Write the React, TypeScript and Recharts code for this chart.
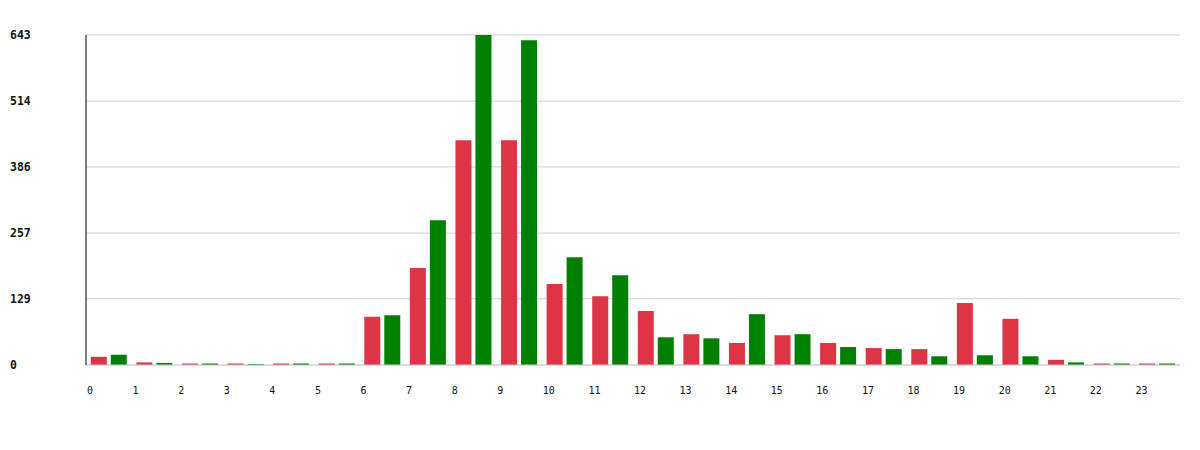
import React from 'react'
import { BarChart, Bar, XAxis, YAxis, CartesianGrid } from 'recharts'

const HOURS = ['0', '1', '2', '3', '4', '5', '6', '7', '8', '9', '10', '11', '12', '13', '14', '15', '16', '17', '18', '19', '20', '21', '22', '23']
const RED_VALUES = [16, 5, 3, 3, 3, 3, 94, 189, 438, 438, 158, 134, 105, 60, 43, 58, 43, 33, 31, 121, 90, 10, 3, 3]
const GREEN_VALUES = [20, 4, 3, 2, 3, 3, 97, 282, 643, 633, 210, 175, 54, 52, 99, 60, 35, 31, 17, 19, 17, 5, 3, 3]
const Y_TICKS = [0, 129, 257, 386, 514, 643]

const WIDTH = 1200
const HEIGHT = 450
const MARGIN = { top: 35, right: 20, bottom: 55, left: 0 }
const Y_WIDTH = 86
const BAND = (WIDTH - MARGIN.left - MARGIN.right - Y_WIDTH) / HOURS.length
const FONT = '"DejaVu Sans Mono", "Liberation Mono", monospace'

const data = HOURS.map((h, i) => ({ hour: h, red: RED_VALUES[i], green: GREEN_VALUES[i] }))

function YTick(props: any) {
  const { y, payload } = props
  return (
    <text x={10} y={y} dominantBaseline="central" textAnchor="start"
      style={{ fontFamily: FONT, fontSize: 11.5, fontWeight: 700, fill: '#111' }}>
      {payload.value}
    </text>
  )
}

function XTick(props: any) {
  const { x, y, payload } = props
  return (
    <text x={x - BAND / 2 + 1} y={y + 17} dominantBaseline="central" textAnchor="start"
      style={{ fontFamily: FONT, fontSize: 10, fill: '#111' }}>
      {payload.value}
    </text>
  )
}

export default function App() {
  return (
    <div style={{ width: WIDTH, height: HEIGHT, background: '#fff' }}>
      <style>{'body{margin:0}'}</style>
      <BarChart width={WIDTH} height={HEIGHT} data={data} margin={MARGIN}
        barCategoryGap="10.5%" barGap={4}>
        <CartesianGrid vertical={false} stroke="#cfcfcf" />
        <XAxis dataKey="hour" tick={<XTick />} tickLine={false} axisLine={{ stroke: '#cfcfcf' }} height={30} interval={0} />
        <YAxis width={Y_WIDTH} domain={[0, 643]} ticks={Y_TICKS} tick={<YTick />} tickLine={false}
          axisLine={{ stroke: '#000' }} interval={0} />
        <Bar dataKey="red" fill="#dc3545" isAnimationActive={false} />
        <Bar dataKey="green" fill="#008000" isAnimationActive={false} />
      </BarChart>
    </div>
  )
}
